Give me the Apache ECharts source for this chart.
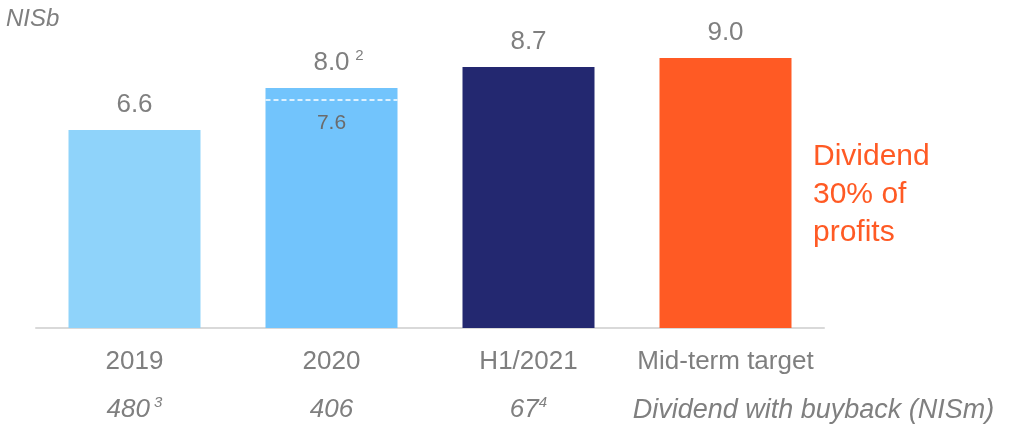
<!DOCTYPE html>
<html>
<head>
<meta charset="utf-8">
<title>Net income and dividend</title>
<script src="https://cdn.jsdelivr.net/npm/echarts@6/dist/echarts.min.js"></script>
<style>
  html, body { margin: 0; padding: 0; background: #ffffff; }
  #chart { width: 1025px; height: 432px; }
</style>
</head>
<body>
<div id="chart"></div>
<script>
// Net income by period (NIS billions) with dividend + buyback amounts (NIS millions)
const categories = ['2019', '2020', 'H1/2021', 'Mid-term target'];
const profitValues = [6.6, 8.0, 8.7, 9.0];
const profitNotes = ['', '2', '', ''];
const barColors = ['#8fd3fa', '#72c4fc', '#232870', '#ff5a24'];
const buybackLabels = ['480', '406', '67', 'Dividend with buyback (NISm)'];
const buybackNotes = ['3', '', '4', ''];
const adjusted2020 = [[1, 7.6]];
const unitLabel = 'NISb';
const targetNote = ['Dividend', '30% of', 'profits'];

const FONT = 'Arial, "Liberation Sans", sans-serif';
const GRAY = '#7f7f7f';
const BAR_WIDTH = 132;

const chart = echarts.init(document.getElementById('chart'), null, { renderer: 'canvas' });

chart.setOption({
  animation: false,
  backgroundColor: '#ffffff',
  grid: { left: 36, right: 201, top: 58, bottom: 104, containLabel: false },
  xAxis: [
    {
      type: 'category',
      data: categories,
      axisLine: { show: true, lineStyle: { color: '#d9d9d9', width: 2 } },
      axisTick: { show: false },
      axisLabel: {
        interval: 0,
        margin: 21,
        color: GRAY,
        fontFamily: FONT,
        fontSize: 26
      }
    },
    {
      type: 'category',
      data: categories,
      position: 'bottom',
      axisLine: { show: false },
      axisTick: { show: false },
      axisLabel: {
        interval: 0,
        margin: 67,
        formatter: function (value, index) {
          if (index === categories.length - 1) {
            return '{wide|' + buybackLabels[index] + '}';
          }
          const note = buybackNotes[index];
          return '{b|' + buybackLabels[index] + '}' + (note ? '{s|' + (index === 0 ? ' ' : '') + note + '}' : '');
        },
        rich: {
          b: { color: GRAY, fontFamily: FONT, fontSize: 26, fontStyle: 'italic', lineHeight: 30 },
          s: { color: GRAY, fontFamily: FONT, fontSize: 15, fontStyle: 'italic', verticalAlign: 'top', lineHeight: 30 },
          wide: { color: GRAY, fontFamily: FONT, fontSize: 27, fontStyle: 'italic', lineHeight: 30, padding: [0, 0, 0, 176] }
        }
      }
    }
  ],
  yAxis: {
    type: 'value',
    min: 0,
    max: 9,
    show: false,
    splitLine: { show: false }
  },
  series: [
    {
      type: 'bar',
      xAxisIndex: 0,
      barWidth: BAR_WIDTH,
      data: profitValues.map(function (v, i) {
        return { value: v, itemStyle: { color: barColors[i] } };
      }),
      label: {
        show: true,
        position: 'top',
        distance: 10,
        formatter: function (p) {
          const note = profitNotes[p.dataIndex];
          const txt = p.value.toFixed(1);
          return note ? '{sp|}{v|' + txt + '}{s|' + note + '}' : '{v|' + txt + '}';
        },
        rich: {
          v: { color: GRAY, fontFamily: FONT, fontSize: 26, lineHeight: 30 },
          sp: { width: 14, lineHeight: 30 },
          s: { color: GRAY, fontFamily: FONT, fontSize: 15, verticalAlign: 'top', lineHeight: 30, width: 14, align: 'right' }
        }
      }
    },
    {
      // restated 2020 profit shown as a dashed level inside the 2020 bar
      type: 'custom',
      xAxisIndex: 0,
      z: 10,
      data: adjusted2020,
      encode: { x: 0, y: 1 },
      renderItem: function (params, api) {
        const p = api.coord([api.value(0), api.value(1)]);
        const half = BAR_WIDTH / 2;
        return {
          type: 'group',
          children: [
            {
              type: 'line',
              shape: { x1: p[0] - half, y1: p[1], x2: p[0] + half, y2: p[1] },
              style: { stroke: '#ffffff', lineWidth: 1.5, lineDash: [5, 3] }
            },
            {
              type: 'text',
              x: p[0],
              y: p[1] + 23,
              style: {
                text: api.value(1).toFixed(1),
                fill: '#6b6b6b',
                font: '21px ' + FONT,
                align: 'center',
                verticalAlign: 'middle'
              }
            }
          ]
        };
      }
    }
  ],
  graphic: [
    {
      type: 'text',
      left: 6,
      top: 7,
      style: {
        text: unitLabel,
        fill: GRAY,
        font: 'italic 24px ' + FONT
      }
    },
    {
      type: 'text',
      left: 813,
      top: 138,
      style: {
        text: targetNote.join('\n'),
        fill: '#ff5a24',
        font: '30px ' + FONT,
        lineHeight: 38
      }
    }
  ]
});
</script>
</body>
</html>
